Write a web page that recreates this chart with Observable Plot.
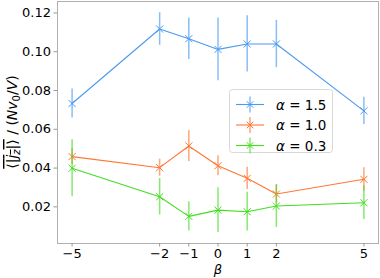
<!DOCTYPE html>
<html><head><meta charset="utf-8">
<script src="https://cdn.jsdelivr.net/npm/d3@7"></script>
<script src="https://cdn.jsdelivr.net/npm/@observablehq/plot@0.6"></script>
<style>
body{margin:0;background:#fff;font-family:"DejaVu Sans",sans-serif;}
#chart{position:relative;width:380px;height:278px;}
</style></head><body><div id="chart"></div>
<script>
const betas = [-5, -2, -1, 0, 1, 2, 5];
const xTicks = [-5, -2, -1, 0, 1, 2, 5];
const yTicks = [0.02, 0.04, 0.06, 0.08, 0.10, 0.12];
const seriesNames = ["α = 1.5", "α = 1.0", "α = 0.3"];
const alpha15 = [0.0733, 0.1117, 0.1067, 0.1012, 0.1040, 0.1040, 0.0695];
const err15   = [0.0075, 0.0084, 0.0107, 0.0162, 0.0145, 0.0122, 0.0070];
const alpha10 = [0.0459, 0.0402, 0.0514, 0.0412, 0.0347, 0.0266, 0.0342];
const err10   = [0.0040, 0.0044, 0.0080, 0.0052, 0.0057, 0.0048, 0.0060];
const alpha03 = [0.0399, 0.0252, 0.0151, 0.0183, 0.0175, 0.0204, 0.0221];
const err03   = [0.0147, 0.0094, 0.0075, 0.0115, 0.0100, 0.0110, 0.0086];
const colors = ["#4a9af0", "#ff7733", "#44dd22"];

const vals = [alpha15, alpha10, alpha03], errs = [err15, err10, err03];
const data = [];
vals.forEach((vs, s) => vs.forEach((v, i) => data.push({s, name: seriesNames[s], x: betas[i], y: v, e: errs[s][i]})));

const marks = [Plot.frame({stroke: "#b0b0b0"})];
[0,1,2].forEach(s => {
  const d = data.filter(r => r.s === s);
  marks.push(Plot.ruleX(d, {x: "x", y1: r => r.y - r.e, y2: r => r.y + r.e, stroke: colors[s], strokeOpacity: 0.65, strokeWidth: 1.5}));
  marks.push(Plot.line(d, {x: "x", y: "y", stroke: colors[s], strokeWidth: 1.1}));
  marks.push(Plot.dot(d, {x: "x", y: "y", symbol: "times", r: 3.3, stroke: colors[s], strokeWidth: 1}));
});
marks.push(Plot.axisX({ticks: xTicks, tickSize: 3.5, tickPadding: 2, stroke: "#999", fill: "black",
  tickFormat: d => d < 0 ? "\u2212" + Math.abs(d) : String(d), fontSize: 13, label: null}));
marks.push(Plot.axisY({ticks: yTicks, tickSize: 3.5, tickPadding: 3, stroke: "#999", fill: "black",
  tickFormat: d3.format(".2f"), fontSize: 13, label: null}));

const svg = Plot.plot({
  width: 380, height: 278,
  marginLeft: 57, marginRight: 2, marginTop: 1, marginBottom: 35,
  style: {fontFamily: "DejaVu Sans", fontSize: "13px", color: "black", background: "white"},
  x: {domain: [-5.5, 5.5]},
  y: {domain: [0.0011, 0.1259]},
  marks
});
document.getElementById("chart").appendChild(svg);

const sel = d3.select(svg);
// x label
sel.append("text").attr("x", 218).attr("y", 273.5).attr("text-anchor", "middle")
  .attr("font-size", 13).attr("font-style", "italic").attr("font-family", "DejaVu Sans").text("β");
// y label
const yl = sel.append("text").attr("transform", "translate(17,122) rotate(-90)").attr("text-anchor", "middle")
  .attr("font-size", 14).attr("font-family", "DejaVu Sans");
yl.append("tspan").attr("text-decoration", "overline").text("⟨|");
yl.append("tspan").attr("text-decoration", "overline").attr("font-style", "italic").text("j");
yl.append("tspan").attr("text-decoration", "overline").attr("font-style", "italic").attr("font-size", 10).attr("dy", 3).text("z");
yl.append("tspan").attr("text-decoration", "overline").attr("dy", -3).text("|⟩");
yl.append("tspan").text(" / (");
yl.append("tspan").attr("font-style", "italic").text("Nv");
yl.append("tspan").attr("font-size", 10).attr("dy", 3).text("0");
yl.append("tspan").attr("dy", -3).text("/");
yl.append("tspan").attr("font-style", "italic").text("V");
yl.append("tspan").text(")");

// legend
const lg = sel.append("g");
lg.append("rect").attr("x", 229.5).attr("y", 89.5).attr("width", 103).attr("height", 63).attr("rx", 3)
  .attr("fill", "white").attr("fill-opacity", 0.85).attr("stroke", "#d8d8d8");
seriesNames.forEach((n, s) => {
  const yy = 104.5 + s * 20.5;
  const g = lg.append("g").attr("stroke", colors[s]);
  g.append("line").attr("x1", 236).attr("x2", 264).attr("y1", yy).attr("y2", yy).attr("stroke-width", 1.1);
  g.append("line").attr("x1", 250).attr("x2", 250).attr("y1", yy - 8).attr("y2", yy + 8).attr("stroke-width", 1.5).attr("stroke-opacity", 0.65);
  g.append("path").attr("d", `M${250-3.3},${yy-3.3}L${250+3.3},${yy+3.3}M${250-3.3},${yy+3.3}L${250+3.3},${yy-3.3}`).attr("stroke-width", 1);
  const t = lg.append("text").attr("x", 276).attr("y", yy + 5).attr("text-anchor", "start")
    .attr("font-size", 13.5).attr("font-family", "DejaVu Sans");
  t.append("tspan").attr("font-style", "italic").text("α");
  t.append("tspan").text(n.slice(1));
});
</script></body></html>
